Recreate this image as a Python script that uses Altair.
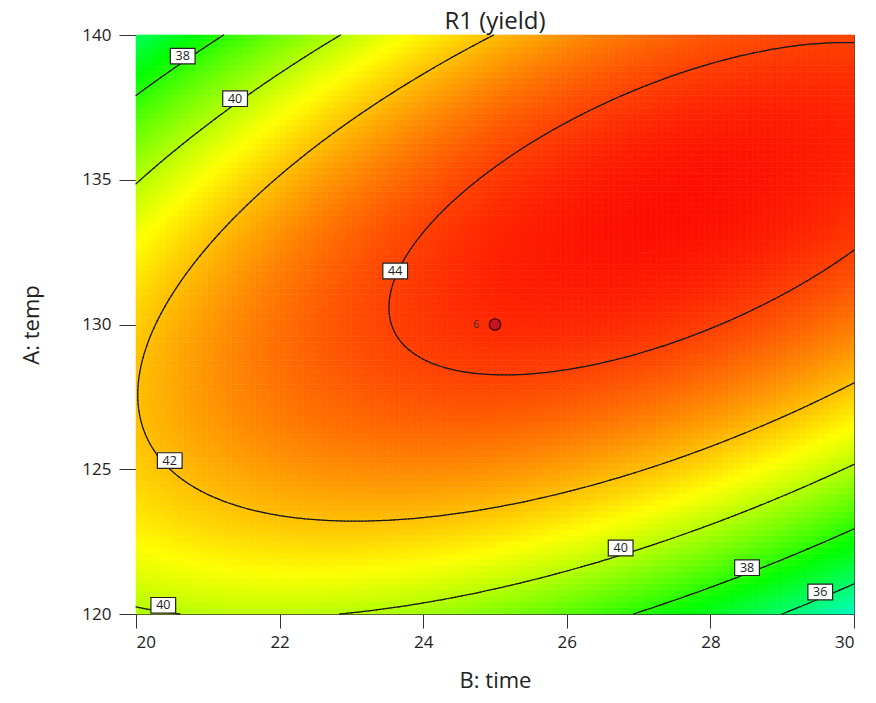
import numpy as np
import pandas as pd
import altair as alt

alt.data_transformers.disable_max_rows()

# ---- values ----
# points on the contour lines: level, B: time, A: temp
pt_level = [38, 38, 38,
            40, 40, 40,
            42, 42, 42, 42, 42, 42, 42, 42, 42, 42, 42,
            44, 44, 44, 44, 44, 44, 44, 44, 44, 44, 44,
            40, 40, 40, 40, 40, 40, 40,
            38, 38, 38,
            36, 36, 36]
pt_time = [20.00, 21.27, 20.65,
           20.00, 22.87, 21.38,
           24.97, 24.23, 22.28, 20.85, 20.08, 20.47, 22.98, 24.18, 26.03, 27.90, 30.00,
           29.95, 28.36, 26.50, 25.11, 24.18, 23.86, 23.57, 23.61, 25.25, 28.80, 30.00,
           20.00, 20.54, 22.94, 24.18, 26.75, 28.82, 30.00,
           27.00, 28.51, 30.00,
           29.05, 29.53, 30.00]
pt_temp = [137.8, 140.0, 139.27,
           134.8, 140.0, 137.8,
           140.0, 139.0, 135.9, 132.0, 127.7, 125.3, 123.2, 123.35, 123.7, 125.67, 127.9,
           139.9, 139.0, 137.4, 135.2, 133.6, 132.6, 130.6, 131.85, 128.2, 130.95, 132.3,
           120.25, 120.0, 120.0, 120.38, 122.28, 123.94, 125.07,
           120.0, 121.6, 122.8,
           120.0, 120.76, 121.0]

contour_levels = [36, 38, 40, 42, 44]

# contour label boxes
lab_text = ["38", "40", "44", "42", "40", "40", "38", "36"]
lab_time = [20.65, 21.38, 23.61, 20.47, 20.38, 26.75, 28.51, 29.53]
lab_temp = [139.27, 137.8, 131.85, 125.3, 120.3, 122.28, 121.6, 120.76]

# design point
dp_time = [25.0]
dp_temp = [130.0]
dp_text = ["6"]

# colour stops (value -> colour)
color_values = [34.0, 37.5, 41.0, 45.0]
color_range = ["#00ffff", "#00ff00", "#ffff00", "#ff0000"]

# ---- quadratic response surface fitted to the read contour points ----
B = np.array(pt_time)
A = np.array(pt_temp)
Y = np.array(pt_level, dtype=float)
x1 = (A - 130) / 10
x2 = (B - 25) / 5
X = np.column_stack([np.ones_like(x1), x1, x2, x1 * x2, x1 ** 2, x2 ** 2])
coef, *_ = np.linalg.lstsq(X, Y, rcond=None)


def model(b, a):
    u = (a - 130) / 10
    v = (b - 25) / 5
    return coef[0] + coef[1] * u + coef[2] * v + coef[3] * u * v + coef[4] * u ** 2 + coef[5] * v ** 2


# heatmap cells
nbx, nby = 120, 96
bx = np.linspace(20, 30, nbx + 1)
ay = np.linspace(120, 140, nby + 1)
BB0, AA0 = np.meshgrid(bx[:-1], ay[:-1])
BB1, AA1 = np.meshgrid(bx[1:], ay[1:])
ZC = model((BB0 + BB1) / 2, (AA0 + AA1) / 2)
heat = pd.DataFrame({"b0": BB0.ravel(), "b1": BB1.ravel(),
                     "a0": AA0.ravel(), "a1": AA1.ravel(), "z": ZC.ravel()})

# contour segments (marching squares on a fine grid)
gx = np.linspace(20, 30, 201)
gy = np.linspace(120, 140, 161)
GX, GY = np.meshgrid(gx, gy)
GZ = model(GX, GY)
zmin = np.minimum.reduce([GZ[:-1, :-1], GZ[:-1, 1:], GZ[1:, :-1], GZ[1:, 1:]])
zmax = np.maximum.reduce([GZ[:-1, :-1], GZ[:-1, 1:], GZ[1:, :-1], GZ[1:, 1:]])
segs = []
for lev in contour_levels:
    js, is_ = np.where((zmin < lev) & (zmax > lev))
    for j, i in zip(js, is_):
        c = [(gx[i], gy[j], GZ[j, i]), (gx[i + 1], gy[j], GZ[j, i + 1]),
             (gx[i + 1], gy[j + 1], GZ[j + 1, i + 1]), (gx[i], gy[j + 1], GZ[j + 1, i])]
        pts = []
        for k in range(4):
            pa, pb = c[k], c[(k + 1) % 4]
            if (pa[2] - lev) * (pb[2] - lev) < 0:
                t = (lev - pa[2]) / (pb[2] - pa[2])
                pts.append((pa[0] + t * (pb[0] - pa[0]), pa[1] + t * (pb[1] - pa[1])))
        for m in range(0, len(pts) - 1, 2):
            segs.append({"x": pts[m][0], "y": pts[m][1], "x2": pts[m + 1][0], "y2": pts[m + 1][1]})
seg_df = pd.DataFrame(segs)

labels = pd.DataFrame({"t": lab_time, "a": lab_temp, "txt": lab_text})
dp = pd.DataFrame({"t": dp_time, "a": dp_temp, "txt": dp_text})

FONT = "Open Sans"
xscale = alt.Scale(domain=[20, 30], nice=False, zero=False)
yscale = alt.Scale(domain=[120, 140], nice=False, zero=False)
cscale = alt.Scale(domain=color_values, range=color_range, interpolate="rgb", clamp=True)

xaxis = alt.Axis(values=[20, 22, 24, 26, 28, 30], format="d", title="B: time", tickSize=14,
                 labelFontSize=17, titleFontSize=22, titlePadding=20, labelPadding=6,
                 grid=False, labelFont=FONT, titleFont=FONT, titleFontWeight="normal",
                 domainColor="#333", tickColor="#333", labelColor="#222", titleColor="#222")
yaxis = alt.Axis(values=[120, 125, 130, 135, 140], format="d", title="A: temp", tickSize=17,
                 labelFontSize=17, titleFontSize=22, titlePadding=38, labelPadding=8,
                 grid=False, labelFont=FONT, titleFont=FONT, titleFontWeight="normal",
                 domainColor="#333", tickColor="#333", labelColor="#222", titleColor="#222")

heat_layer = alt.Chart(heat).mark_rect(strokeWidth=0.6).encode(
    x=alt.X("b0:Q", scale=xscale, axis=xaxis),
    x2="b1:Q",
    y=alt.Y("a0:Q", scale=yscale, axis=yaxis),
    y2="a1:Q",
    fill=alt.Fill("z:Q", scale=cscale, legend=None),
    stroke=alt.Stroke("z:Q", scale=cscale, legend=None),
)

line_layer = alt.Chart(seg_df).mark_rule(color="#1a1a1a", strokeWidth=1.25, strokeCap="round").encode(
    x="x:Q", y="y:Q", x2="x2:Q", y2="y2:Q"
)

box_shape = "M-1.5,-0.95L1.5,-0.95L1.5,0.95L-1.5,0.95Z"
box_layer = alt.Chart(labels).mark_point(shape=box_shape, size=272, filled=True, fill="white",
                                         stroke="#222", strokeWidth=1.2, opacity=1).encode(
    x="t:Q", y="a:Q"
)
text_layer = alt.Chart(labels).mark_text(fontSize=12.5, font=FONT, color="#222").encode(
    x="t:Q", y="a:Q", text="txt:N"
)

dp_layer = alt.Chart(dp).mark_point(shape="circle", size=130, filled=True, fill="#c8141e",
                                    stroke="#3a0000", strokeWidth=1.3, opacity=1).encode(
    x="t:Q", y="a:Q"
)
dp_text_layer = alt.Chart(dp).mark_text(fontSize=10, font=FONT, color="#333", dx=-19).encode(
    x="t:Q", y="a:Q", text="txt:N"
)

chart = alt.layer(heat_layer, line_layer, box_layer, text_layer, dp_layer, dp_text_layer).properties(
    width=718, height=579,
    title=alt.TitleParams("R1 (yield)", fontSize=24, font=FONT, fontWeight="normal",
                          color="#222", anchor="middle", offset=0, dy=8),
    padding={"left": 136, "top": 35, "right": 22, "bottom": 89},
    autosize="none",
).configure_view(stroke="#444", strokeWidth=1)

chart.save("out.html", embed_options={"renderer": "svg", "actions": False})
